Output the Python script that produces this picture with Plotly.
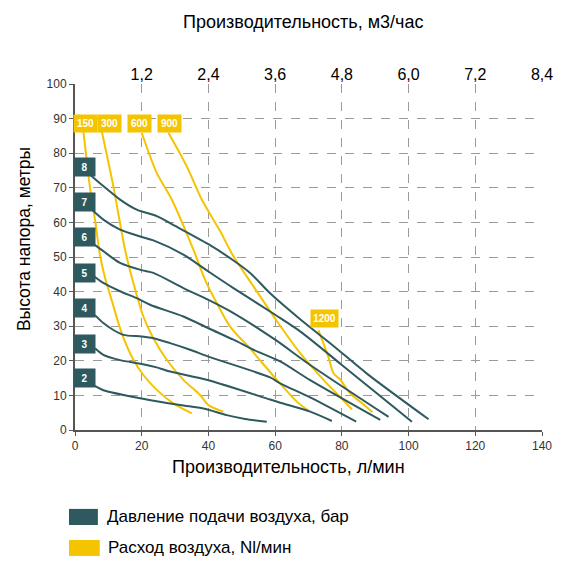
import plotly.graph_objects as go

# pressure curves (bar): flow l/min vs head m
p_names = ["2", "3", "4", "5", "6", "7", "8"]
p_x = [
    [5.8, 8.5, 20, 31.5, 38.5, 45.5, 51, 57.5],
    [6, 8.5, 13.5, 20, 24.5, 28.5, 40, 58.5, 61.5, 70.5, 77],
    [6, 8.5, 11.5, 14.5, 20, 23.5, 28.5, 34.5, 40, 58.5, 61.5, 70.5, 84.3],
    [5.5, 8.5, 13.5, 18.5, 22.5, 32.5, 40, 47.5, 53.5, 61.5, 70.5, 91.5],
    [5.5, 8.5, 13.5, 20, 23.5, 32.5, 40, 47.5, 60, 70.5, 94],
    [5, 8.5, 13.5, 20, 23.5, 32.5, 40, 47.5, 60, 67.5, 80, 90, 101],
    [4.5, 8.5, 13.5, 18.5, 24.5, 30, 40, 47.5, 52.5, 58.5, 67.5, 77.5, 87.5, 106],
]
p_y = [
    [12.8, 11.5, 9.1, 7.2, 6.2, 4.3, 3.2, 2.4],
    [23.6, 21.7, 20.2, 19.1, 18.1, 16.9, 14.4, 8.8, 7.9, 5.3, 2.6],
    [33.2, 30.9, 28.9, 27.5, 27, 26.5, 25.1, 23.2, 21.2, 15.2, 13.5, 9.4, 2.4],
    [44.6, 42.5, 40.1, 38.1, 36.2, 32.8, 29.4, 26.1, 23.2, 19.8, 14.4, 2.9],
    [53.8, 51.7, 48.3, 46.2, 45.4, 41, 37.6, 33.8, 26.1, 18.8, 3.8],
    [63.7, 60.8, 57.9, 55.8, 54.8, 50.7, 45.8, 41, 33.3, 28.5, 18.8, 11, 2.4],
    [73.8, 70.5, 66.6, 63.7, 61.8, 59.0, 53.7, 49, 45.4, 39.5, 32, 24.3, 16.3, 3.1],
]
p_label_x = [2.9] * 7
p_label_y = [15, 25, 35.2, 45.3, 55.8, 66, 76]

# air consumption curves (Nl/min)
a_names = ["150", "300", "600", "900", "1200"]
a_x = [
    [2.5, 3.5, 4.5, 6, 7.5, 9, 11, 14, 17.5, 20.5, 24.5, 29.5, 35],
    [8, 11.5, 15, 17.5, 20.5, 23.5, 27.5, 32.5, 37.5, 40, 44.5],
    [20, 24.5, 29, 35.5, 39, 42.5, 46.5, 52.5, 60.5, 66.5, 70],
    [28, 33.5, 38, 41.5, 43.5, 47.5, 53.5, 60.5, 67.5, 74.5, 79, 83],
    [73, 74.5, 76, 77.5, 79.5, 81.5, 83, 86, 89.2],
]
a_y = [
    [86.4, 78, 70, 60.8, 50.5, 44, 37.5, 28, 20.3, 15.9, 11.6, 7.7, 4.8],
    [86.4, 70.4, 52.1, 42.5, 32.8, 26.5, 20.3, 14.5, 10.1, 7.2, 5.3],
    [85.9, 74.3, 66.6, 52.1, 43.4, 36.7, 29.9, 23.5, 14.5, 8.2, 5.6],
    [85.9, 76.2, 66.6, 60.8, 57.5, 50.2, 41.5, 31.5, 22.2, 14.5, 10, 6],
    [28.8, 25, 21, 16.4, 14.6, 11.8, 10.1, 7.8, 5.1],
]
a_label_x = [3.2, 10.3, 19.2, 28.2, 74.8]
a_label_y = [88.5, 88.5, 88.5, 88.5, 32.1]

top_vals = [20, 40, 60, 80, 100, 120, 140]
top_text = ["1,2", "2,4", "3,6", "4,8", "6,0", "7,2", "8,4"]

DARK = "#2e5a5f"
YELLOW = "#f5c400"
FONT = "Liberation Sans, Arial, sans-serif"

fig = go.Figure()

for xs, ys in zip(a_x, a_y):
    fig.add_trace(go.Scatter(x=xs, y=ys, mode="lines", line=dict(color=YELLOW, width=2, shape="spline", smoothing=0.8),
                             hoverinfo="skip", showlegend=False))
for xs, ys in zip(p_x, p_y):
    fig.add_trace(go.Scatter(x=xs, y=ys, mode="lines", line=dict(color=DARK, width=2, shape="spline", smoothing=0.8),
                             hoverinfo="skip", showlegend=False))

# dummy trace so the top axis is drawn
fig.add_trace(go.Scatter(x=[0, 140], y=[0, 0], xaxis="x2", mode="lines", line=dict(width=0),
                         hoverinfo="skip", showlegend=False))

for name, lx, ly in zip(p_names, p_label_x, p_label_y):
    fig.add_annotation(x=lx, y=ly, text="<b>" + name + "</b>", showarrow=False, bgcolor=DARK,
                       font=dict(color="white", size=10, family=FONT), width=19, height=16)
for name, lx, ly in zip(a_names, a_label_x, a_label_y):
    w = 25 if len(name) > 3 else 21
    fig.add_annotation(x=lx, y=ly, text="<b>" + name + "</b>", showarrow=False, bgcolor=YELLOW,
                       font=dict(color="white", size=10, family=FONT), width=w, height=15)

# axis titles
fig.add_annotation(xref="paper", yref="paper", x=0.457, y=-0.106, yanchor="middle", text="Производительность, л/мин",
                   showarrow=False, font=dict(size=18, color="black", family=FONT))
fig.add_annotation(xref="paper", yref="paper", x=0.49, y=1.179, yanchor="middle", text="Производительность, м3/час",
                   showarrow=False, font=dict(size=18, color="black", family=FONT))
fig.add_annotation(xref="paper", yref="paper", x=-0.109, y=0.552, xanchor="center", yanchor="middle",
                   text="Высота напора, метры", textangle=-90,
                   showarrow=False, font=dict(size=17.5, color="black", family=FONT))

# legend
fig.add_shape(type="rect", xref="paper", yref="paper", x0=-0.0128, x1=0.049, y0=-0.2746, y1=-0.228,
              fillcolor=DARK, line=dict(width=0))
fig.add_shape(type="rect", xref="paper", yref="paper", x0=-0.0128, x1=0.053, y0=-0.364, y1=-0.318,
              fillcolor=YELLOW, line=dict(width=0))
fig.add_annotation(xref="paper", yref="paper", x=0.064, y=-0.251, text="Давление подачи воздуха, бар",
                   showarrow=False, xanchor="left", yanchor="middle", font=dict(size=17, color="black", family=FONT))
fig.add_annotation(xref="paper", yref="paper", x=0.066, y=-0.341, text="Расход воздуха, Nl/мин",
                   showarrow=False, xanchor="left", yanchor="middle", font=dict(size=17, color="black", family=FONT))

grid = dict(showgrid=True, gridcolor="#9a9a9a", griddash="dash", gridwidth=1, zeroline=False, automargin=False)

# page body has an 8px margin, so the figure is drawn 8px smaller and shifted
fig.update_layout(
    width=576, height=564,
    margin=dict(l=67, r=42, t=76, b=142),
    plot_bgcolor="white", paper_bgcolor="white",
    font=dict(family=FONT, color="#333333"),
    xaxis=dict(range=[0, 140], tickvals=[0, 20, 40, 60, 80, 100, 120, 140], showline=True,
               linecolor="#555555", linewidth=2, ticks="outside", ticklen=4, tickcolor="#555555",
               tickfont=dict(size=12), **grid),
    xaxis2=dict(range=[0, 140], overlaying="x", side="top", tickvals=top_vals, ticktext=top_text,
                showgrid=False, showline=False, zeroline=False, ticks="", automargin=False,
                tickfont=dict(size=16, color="black")),
    yaxis=dict(range=[0, 100], dtick=10, showline=True, linecolor="#555555", linewidth=2, ticks="outside",
               ticklen=4, tickcolor="#555555", tickfont=dict(size=12), **grid),
)

fig.write_html("out.html")
